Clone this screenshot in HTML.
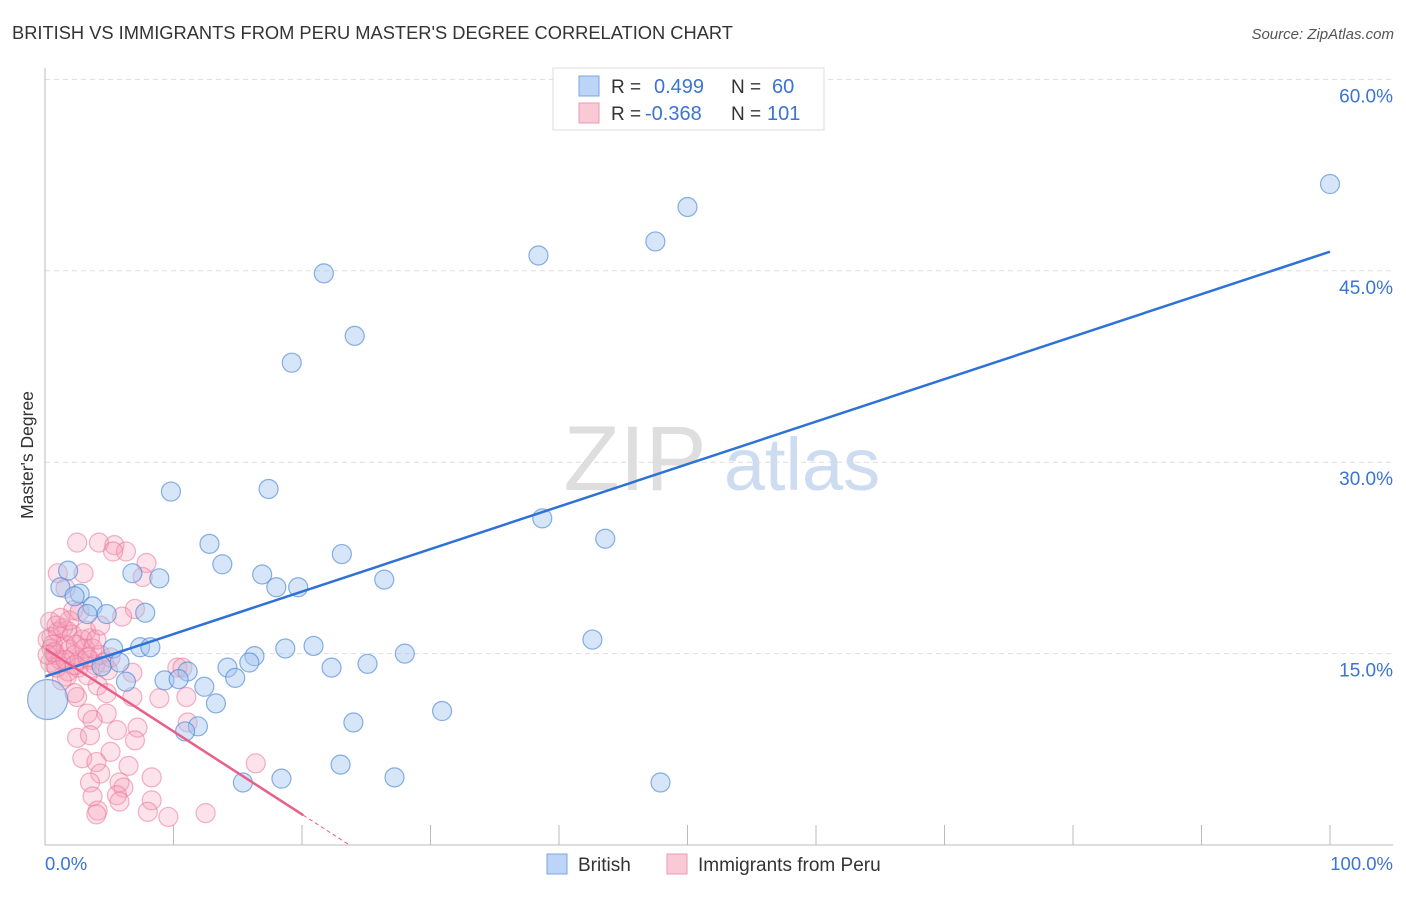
<!DOCTYPE html>
<html><head><meta charset="utf-8"><style>
body{margin:0;background:#fff;font-family:"Liberation Sans",sans-serif}
svg text{font-family:"Liberation Sans",sans-serif}
</style></head><body>
<svg id="c" width="1406" height="892">
<text x="12" y="39" font-size="18.3" fill="#333">BRITISH VS IMMIGRANTS FROM PERU MASTER'S DEGREE CORRELATION CHART</text>
<text x="1394" y="39" font-size="15" fill="#555" font-style="italic" text-anchor="end">Source: ZipAtlas.com</text>
<text transform="translate(33,455) rotate(-90)" font-size="17.5" fill="#333" text-anchor="middle">Master's Degree</text>
<g><text x="635" y="490" font-size="92" fill="#dedede" font-family="Liberation Serif" text-anchor="middle">ZIP</text><text x="802" y="490" font-size="74" fill="#cddcf1" text-anchor="middle">atlas</text></g>
<g id="grid"></g><g id="pts"></g><g id="lines"></g>
<line x1="45" y1="68" x2="45" y2="845" stroke="#bbb"/>
<line x1="45" y1="845" x2="1393" y2="845" stroke="#bbb"/>
<text x="45" y="870" font-size="18.5" fill="#3a74d4">0.0%</text>
<text x="1393" y="870" font-size="18.5" fill="#3a74d4" text-anchor="end">100.0%</text>
<g>
<rect x="553" y="68" width="271" height="62" fill="#fff" stroke="#ddd"/>
<rect x="579" y="76" width="20" height="20" fill="#bcd4f5" stroke="#7aa6e0"/>
<rect x="579" y="103" width="20" height="20" fill="#f9c9d6" stroke="#eb9ab2"/>
<text x="611" y="93" font-size="19" fill="#333">R =</text><text x="654" y="93" font-size="20" fill="#3a74d4">0.499</text>
<text x="731" y="93" font-size="19" fill="#333">N =</text><text x="772" y="93" font-size="20" fill="#3a74d4">60</text>
<text x="611" y="120" font-size="19" fill="#333">R =</text><text x="645" y="120" font-size="20" fill="#3a74d4">-0.368</text>
<text x="731" y="120" font-size="19" fill="#333">N =</text><text x="767" y="120" font-size="20" fill="#3a74d4">101</text>
</g>
<g>
<rect x="547" y="854" width="20" height="20" fill="#bcd4f5" stroke="#7aa6e0"/>
<text x="578" y="871" font-size="19" fill="#333">British</text>
<rect x="667" y="854" width="20" height="20" fill="#f9c9d6" stroke="#eb9ab2"/>
<text x="698" y="871" font-size="19" fill="#333">Immigrants from Peru</text>
</g>
</svg>
<script>
const yTicks=[15,30,45,60];
const xTickVals=[10,20,30,40,50,60,70,80,90,100];
const britishX=[100,50.0,47.5,38.4,21.7,24.1,19.2,9.8,17.4,38.7,43.6,12.8,23.1,13.8,16.9,26.4,6.8,8.9,1.8,18.0,19.7,1.2,2.7,2.3,3.7,7.8,4.8,3.3,42.6,7.4,8.2,5.3,20.9,18.7,16.3,28.0,15.9,25.1,5.8,14.2,22.3,4.4,11.1,9.3,6.3,10.4,14.8,12.4,30.9,13.3,11.9,10.9,24.0,23.0,18.4,27.2,15.4,47.9,0.2];
const britishY=[51.8,50.0,47.3,46.2,44.8,39.9,37.8,27.7,27.9,25.6,24.0,23.6,22.8,22.0,21.2,20.8,21.3,20.9,21.5,20.2,20.2,20.2,19.7,19.5,18.7,18.2,18.1,18.1,16.1,15.5,15.5,15.4,15.6,15.4,14.8,15.0,14.3,14.2,14.3,13.9,13.9,14.0,13.6,12.9,12.8,13.0,13.1,12.4,10.5,11.1,9.3,8.9,9.6,6.3,5.2,5.3,4.9,4.9,11.4];
const peruX=[2.5,4.2,5.4,6.3,5.3,7.9,7.6,1.0,3.0,1.6,2.2,7.0,6.0,0.4,1.7,3.5,0.5,10.3,6.8,8.9,2.5,4.1,4.8,6.8,3.3,4.8,3.7,5.6,7.2,2.5,3.5,7.0,11.1,2.9,5.1,4.0,4.3,6.5,8.3,3.5,5.8,6.1,3.7,5.6,8.3,5.8,4.1,8.0,9.6,12.5,16.4,4.0,0.8,1.7,2.3,11.0,10.7,0.2,0.5,0.8,1.2,1.6,1.9,2.3,2.7,3.1,3.5,3.9,4.3,1.0,1.4,2.1,2.9,0.4,0.9,1.8,2.6,3.3,1.3,0.6,0.2,1.6,2.3,3.7,4.6,4.9,0.9,3.2,4.0,1.9,2.7,4.3,1.2,0.7,2.4,3.3,5.1];
const peruY=[23.7,23.7,23.5,23.0,23.0,22.1,21.0,21.3,21.3,20.1,18.4,18.5,17.9,17.5,16.8,16.2,16.3,13.9,13.5,11.5,11.6,12.5,11.9,11.6,10.3,10.3,9.8,9.0,9.2,8.4,8.6,8.2,9.6,6.8,7.3,6.5,5.6,6.2,5.3,4.9,4.9,4.5,3.8,3.9,3.5,3.4,2.7,2.6,2.2,2.5,6.4,2.4,14.1,13.2,11.9,11.6,13.9,16.1,15.4,14.9,14.5,15.7,15.3,14.9,14.5,15.4,14.5,14.1,14.9,16.7,17.0,16.5,16.1,14.3,13.9,13.6,13.9,13.3,12.9,15.7,14.9,14.5,14.1,15.4,14.3,13.7,17.2,16.8,16.1,17.6,18.3,17.2,17.8,15.1,15.7,14.7,14.7];
const britishTrend=[13.2,0.333];
const peruTrend=[15.4,-0.65];
const NS='http://www.w3.org/2000/svg';
const X=v=>45+v*12.85, Y=v=>845-v*12.76;
function mk(t,a,p){const e=document.createElementNS(NS,t);for(const k in a)e.setAttribute(k,a[k]);p.appendChild(e);return e;}
const grid=document.getElementById('grid');
yTicks.forEach(v=>{
 const l=mk('line',{x1:45,x2:1393,y1:Y(v),y2:Y(v),stroke:'#ddd','stroke-dasharray':'5,4'},grid);
 
 
 const t=mk('text',{x:1393,y:Y(v)+23,'font-size':19,fill:'#3a74d4','text-anchor':'end'},grid);
 t.textContent=v.toFixed(1)+'%';
 
 
});
xTickVals.forEach(v=>{
 const l=mk('line',{x1:X(v),x2:X(v),y1:825,y2:845,stroke:'#bbb'},grid);
 
 
});
const pts=document.getElementById('pts');
peruX.forEach((x,i)=>{
 const c=mk('circle',{cx:X(x),cy:Y(peruY[i]),r:9.5,fill:'rgba(245,160,185,0.3)',stroke:'rgba(235,115,150,0.55)','stroke-width':1.2},pts);
 
 
});
britishX.forEach((x,i)=>{
 const c=mk('circle',{cx:X(x),cy:Y(britishY[i]),r:i==britishX.length-1?20:9.5,fill:'rgba(165,198,240,0.45)',stroke:'rgba(75,135,215,0.65)','stroke-width':1.2},pts);
 
 
});
const lines=document.getElementById('lines');
const bl=mk('line',{x1:X(0),y1:Y(britishTrend[0]),x2:X(100),y2:Y(britishTrend[0]+britishTrend[1]*100),stroke:'#2f72d6','stroke-width':2.5},lines);


const pEnd=20.1, pZero=-peruTrend[0]/peruTrend[1];
const pl=mk('line',{x1:X(0),y1:Y(peruTrend[0]),x2:X(pEnd),y2:Y(peruTrend[0]+peruTrend[1]*pEnd),stroke:'#e8608a','stroke-width':2.5},lines);


const pd=mk('line',{x1:X(pEnd),y1:Y(peruTrend[0]+peruTrend[1]*pEnd),x2:X(pZero),y2:Y(0),stroke:'#e8608a','stroke-width':1,'stroke-dasharray':'4,3'},lines);


</script>
</body></html>
